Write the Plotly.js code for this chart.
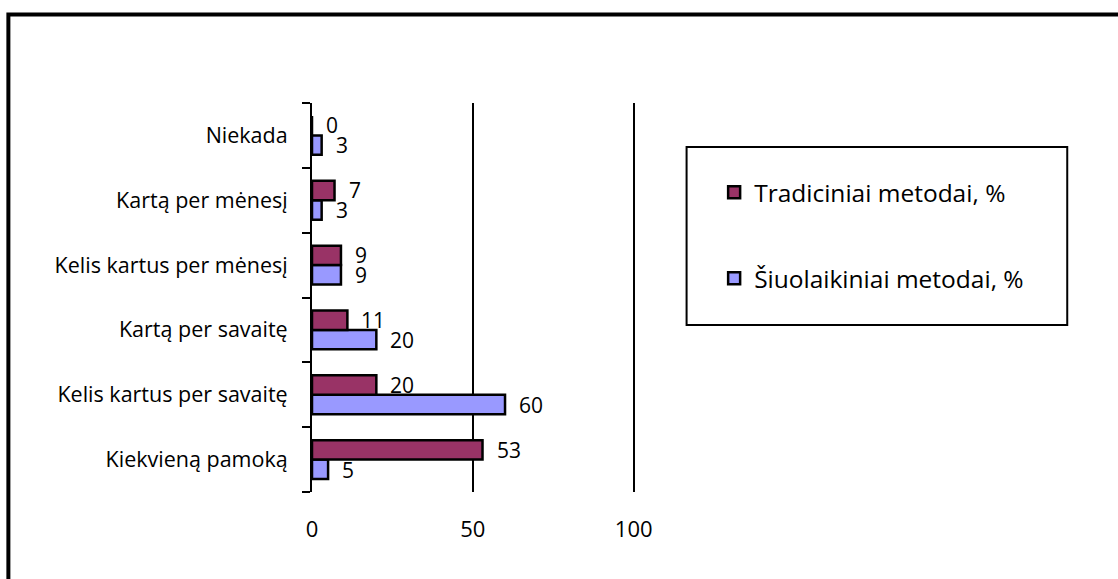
<!DOCTYPE html>
<html>
<head>
<meta charset="utf-8">
<script src="https://cdn.plot.ly/plotly-3.0.1.min.js"></script>
<style>
  html, body { margin: 0; padding: 0; background: #ffffff; }
  #chart { width: 1118px; height: 579px; }
</style>
</head>
<body>
<div id="chart"></div>
<script>
// Categories listed bottom-to-top as they appear on the y axis
const categories = [
  'Kiekvieną pamoką',
  'Kelis kartus per savaitę',
  'Kartą per savaitę',
  'Kelis kartus per mėnesį',
  'Kartą per mėnesį',
  'Niekada'
];
const tradiciniai = [53, 20, 11, 9, 7, 0];
const siuolaikiniai = [5, 60, 20, 9, 3, 3];
const seriesNames = ['Tradiciniai metodai, %', 'Šiuolaikiniai metodai, %'];
const xTicks = [0, 50, 100];

const FONT = 'Open Sans, Liberation Sans, sans-serif';
const MAROON = '#993366';
const LILAC = '#9999FF';

// In a horizontal group the first trace sits lower, so the modern-methods series goes first
const traces = [
  {
    type: 'bar', orientation: 'h', name: seriesNames[1],
    x: siuolaikiniai, y: categories,
    marker: { color: LILAC, line: { color: '#000000', width: 2.5 } },
    legendgroup: 'b', legendrank: 2, hoverinfo: 'x+name'
  },
  {
    type: 'bar', orientation: 'h', name: seriesNames[0],
    x: tradiciniai, y: categories,
    marker: { color: MAROON, line: { color: '#000000', width: 2.5 } },
    legendgroup: 'a', legendrank: 1, hoverinfo: 'x+name'
  }
];

// Value labels placed just past the end of each bar
const LABEL_FONT = { family: FONT, size: 21, color: '#000000' };
const annotations = [];
categories.forEach((c, i) => {
  annotations.push({
    x: tradiciniai[i], y: c, xref: 'x', yref: 'y',
    text: String(tradiciniai[i]), showarrow: false,
    xanchor: 'left', yanchor: 'middle', xshift: 13, yshift: 10,
    borderpad: 0, font: LABEL_FONT
  });
  annotations.push({
    x: siuolaikiniai[i], y: c, xref: 'x', yref: 'y',
    text: String(siuolaikiniai[i]), showarrow: false,
    xanchor: 'left', yanchor: 'middle', xshift: 13, yshift: -10,
    borderpad: 0, font: LABEL_FONT
  });
});

const layout = {
  width: 1118, height: 579,
  margin: { l: 312, r: 483, t: 103, b: 87, pad: 0 },
  paper_bgcolor: '#ffffff', plot_bgcolor: '#ffffff',
  font: { family: FONT, color: '#000000' },
  barmode: 'group', bargap: 0.4, bargroupgap: 0,
  showlegend: true,
  legend: {
    x: 1.245, xanchor: 'left', y: 0.828, yanchor: 'top',
    bgcolor: 'rgba(0,0,0,0)', borderwidth: 0,
    traceorder: 'grouped', tracegroupgap: 51,
    font: { family: FONT, size: 24.5, color: '#000000' }
  },
  xaxis: {
    range: [0, 100.4], tickvals: xTicks, ticktext: xTicks.map(String),
    showgrid: true, gridcolor: '#000000', gridwidth: 2,
    zeroline: false, showline: false, ticks: '',
    ticklabelstandoff: 22,
    tickfont: { family: FONT, size: 22, color: '#000000' },
    fixedrange: true
  },
  yaxis: {
    type: 'category', categoryorder: 'array', categoryarray: categories,
    showline: true, linecolor: '#000000', linewidth: 2,
    ticks: 'outside', ticklen: 8, tickwidth: 2, tickcolor: '#000000',
    tickson: 'boundaries', showgrid: false, zeroline: false,
    ticklabelstandoff: 18,
    tickfont: { family: FONT, size: 21.5, color: '#000000' },
    fixedrange: true
  },
  shapes: [
    // outer chart frame (runs past the right and bottom page edges)
    { type: 'rect', xref: 'paper', yref: 'paper', x0: -0.94, x1: 3, y0: -1, y1: 1.2275,
      line: { color: '#000000', width: 4 }, fillcolor: 'rgba(0,0,0,0)', layer: 'above' },
    // legend box
    { type: 'rect', xref: 'paper', yref: 'paper', x0: 1.1597, x1: 2.3382, y0: 0.429, y1: 0.887,
      line: { color: '#000000', width: 2 }, fillcolor: 'rgba(0,0,0,0)', layer: 'above' }
  ],
  annotations: annotations
};

Plotly.newPlot('chart', traces, layout, { displayModeBar: false, staticPlot: true });
</script>
</body>
</html>
